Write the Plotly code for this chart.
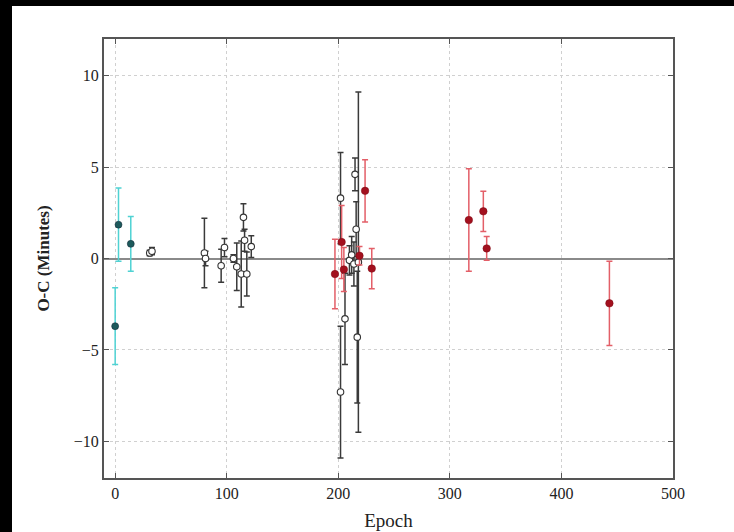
import plotly.graph_objects as go

# Cyan series
cyan_epoch = [0, 3, 14]
cyan_oc = [-3.7, 1.85, 0.8]
cyan_err = [2.1, 2.0, 1.5]

# Open (white) series
open_epoch = [31, 33, 80, 81, 95, 98, 106, 109, 113, 115, 116, 118, 122,
              202, 202, 206, 210, 212, 214, 215, 216, 217, 218]
open_oc = [0.3, 0.4, 0.3, 0.0, -0.4, 0.6, 0.0, -0.45, -0.85, 2.25, 1.0, -0.85, 0.65,
           3.3, -7.3, -3.3, -0.1, 0.2, -0.3, 4.6, 1.6, -4.3, -0.2]
open_err = [0.15, 0.2, 1.9, 0.4, 0.9, 0.5, 0.2, 1.3, 1.8, 0.75, 0.6, 1.2, 0.6,
            2.5, 3.6, 2.5, 0.8, 1.0, 1.2, 0.9, 1.5, 3.6, 9.3]

# Red series
red_epoch = [197, 203, 205, 219, 224, 230, 317, 330, 333, 443]
red_oc = [-0.85, 0.9, -0.6, 0.15, 3.7, -0.55, 2.1, 2.58, 0.55, -2.45]
red_err = [1.9, 2.0, 1.2, 0.5, 1.7, 1.1, 2.8, 1.1, 0.65, 2.3]

x_ticks = [0, 100, 200, 300, 400, 500]
y_ticks = [-10, -5, 0, 5, 10]
y_ticktext = ["\u221210", "\u22125", "0", "5", "10"]

FONT = "Liberation Serif"

fig = go.Figure()

fig.add_trace(go.Scatter(
    x=cyan_epoch, y=cyan_oc, mode="markers",
    error_y=dict(type="data", array=cyan_err, color="#4fd2d3", thickness=1.5, width=3),
    marker=dict(color="#1d5a5c", size=7, line=dict(color="#123", width=0.5)),
    showlegend=False))

fig.add_trace(go.Scatter(
    x=open_epoch, y=open_oc, mode="markers",
    error_y=dict(type="data", array=open_err, color="#3a3a3a", thickness=1.5, width=3),
    marker=dict(color="white", size=6.5, line=dict(color="#333", width=1.1)),
    showlegend=False))

fig.add_trace(go.Scatter(
    x=red_epoch, y=red_oc, mode="markers",
    error_y=dict(type="data", array=red_err, color="#e35f68", thickness=1.5, width=3),
    marker=dict(color="#a3101e", size=7.5, line=dict(color="#7a0a14", width=0.5)),
    showlegend=False))

fig.update_layout(
    width=734, height=532,
    margin=dict(l=104, r=61, t=39, b=54),
    paper_bgcolor="white", plot_bgcolor="white",
    font=dict(family=FONT, color="#222", size=16),
    xaxis=dict(range=[-10, 500], tickvals=x_ticks, showgrid=True, gridcolor="#d0d0d0",
               griddash="dot", gridwidth=1, zeroline=False, showline=True,
               linecolor="#555", linewidth=2, mirror="ticks", ticks="inside",
               ticklen=5, tickcolor="#555", automargin=False,
               title=dict(text="Epoch", font=dict(size=19, family=FONT), standoff=12),
               tickfont=dict(size=16, family=FONT)),
    yaxis=dict(range=[-12, 12], tickvals=y_ticks, ticktext=y_ticktext, showgrid=True,
               gridcolor="#d0d0d0", griddash="dot", gridwidth=1, zeroline=True,
               zerolinecolor="#8a8a8a", zerolinewidth=1.5, showline=True,
               linecolor="#555", linewidth=2, mirror="ticks", ticks="inside",
               ticklen=5, tickcolor="#555", automargin=False,
               title=dict(text="<b>O-C (Minutes)</b>", font=dict(size=17, family=FONT), standoff=20),
               tickfont=dict(size=16, family=FONT)),
)

# black border strips of the reference image (left and top)
pw = 734 - 104 - 61
ph = 532 - 39 - 54
def px_x(p):
    return (p - 104) / pw
def px_y(p):
    return (532 - 54 - p) / ph
fig.add_shape(type="rect", xref="paper", yref="paper",
              x0=px_x(0), x1=px_x(12), y0=px_y(532), y1=px_y(0),
              fillcolor="black", line=dict(width=0), layer="above")
fig.add_shape(type="rect", xref="paper", yref="paper",
              x0=px_x(0), x1=px_x(734), y0=px_y(6), y1=px_y(0),
              fillcolor="black", line=dict(width=0), layer="above")

fig.write_html("out.html")
